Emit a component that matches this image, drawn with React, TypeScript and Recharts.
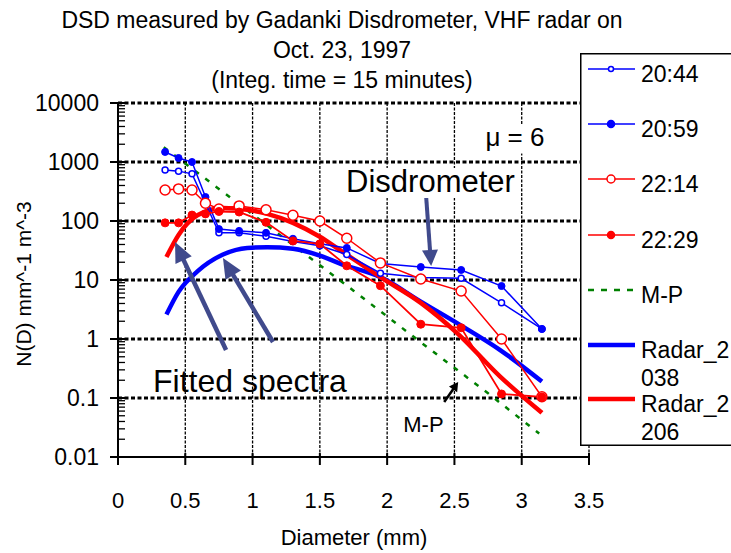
import React from 'react';
import { LineChart, Line, XAxis, YAxis, ReferenceLine, ReferenceDot, Legend, Label } from 'recharts';

const FONT = '"Liberation Sans", Arial, sans-serif';

// ---- data ----
const binD = [0.35, 0.45, 0.55, 0.65, 0.75, 0.9, 1.1, 1.3, 1.5, 1.7, 1.95, 2.25, 2.55, 2.85, 3.15];
const n2044 = [730, 700, 630, 200, 63, 63, 55, 45, 38, 27, 13, 11, 10.7, 4.1, 1.48];
const n2059 = [1480, 1170, 1000, 255, 73, 68, 63, 50, 41, 35, 19, 16.6, 14.8, 7.9, 1.48];
const n2214 = [336, 350, 336, 200, 160, 180, 155, 125, 100, 51, 19.5, 10.4, 6.5, 1.0, 0.105];
const n2229 = [93, 93, 126, 132, 145, 142, 95, 46, 41, 17.4, 8, 1.78, 1.55, 0.117, 0.104];

const radarD = [0.36, 0.45, 0.59, 0.78, 0.96, 1.11, 1.3, 1.5, 1.65, 1.95, 2.25, 2.52, 2.84, 3.15];
const radar2038 = [2.6, 6.3, 14, 27, 35, 36, 34, 26, 19, 11.2, 4.3, 1.86, 0.65, 0.19];
const radar2206 = [24.5, 58, 125, 166, 155, 132, 93, 54, 32, 11.2, 4.1, 1.26, 0.23, 0.056];

const mpD = [0.34, 0.75, 1.25, 1.75, 2.25, 2.75, 3.13];
const mpN = [1780, 350, 48, 6.6, 0.88, 0.12, 0.025];

const xTicks = [0, 0.5, 1, 1.5, 2, 2.5, 3, 3.5];
const xTickLabels = ['0', '0.5', '1', '1.5', '2', '2.5', '3', '3.5'];
const yDecades = [0.01, 0.1, 1, 10, 100, 1000, 10000];
const yTickLabels = ['0.01', '0.1', '1', '10', '100', '1000', '10000'];
const minorMult = [2, 3, 4, 5, 6, 7, 8, 9];

const legendNames = ['20:44', '20:59', '22:14', '22:29', 'M-P', 'Radar_2038', 'Radar_2206'];
const titleLines = ['DSD measured by Gadanki Disdrometer, VHF radar on', 'Oct. 23, 1997', '(Integ. time = 15 minutes)'];
const xTitle = 'Diameter (mm)';
const yTitle = 'N(D) mm^-1 m^-3';

// ---- helpers ----
const pts = (xs: number[], ys: number[]) => xs.map((x, i) => ({ x, y: ys[i] }));
const d2044 = pts(binD, n2044);
const d2059 = pts(binD, n2059);
const d2214 = pts(binD, n2214);
const d2229 = pts(binD, n2229);
const dR2038 = pts(radarD, radar2038);
const dR2206 = pts(radarD, radar2206);
const dMP = pts(mpD, mpN);

const yTickValues = [
  ...yDecades,
  ...yDecades.slice(0, -1).flatMap((d) => minorMult.map((m) => +(d * m).toPrecision(3))),
].sort((a, b) => a - b);

const BLUE = '#0000FF';
const RED = '#FF0000';
const GREEN = '#008000';
const ARROW = '#404A8C';

const YTick = (p: any) => {
  const { x, y, payload } = p;
  const idx = yDecades.findIndex((d) => Math.abs(d - payload.value) / d < 1e-6);
  const major = idx >= 0;
  return (
    <g>
      <line x1={major ? x - 8 : x} x2={x + 7} y1={y} y2={y} stroke="#000" strokeWidth={major ? 2 : 1.3} />
      {major && (
        <text x={x - 19} y={y} dy="0.36em" textAnchor="end" fontSize={23} fontFamily={FONT} fill="#000">
          {yTickLabels[idx]}
        </text>
      )}
    </g>
  );
};

const XTick = (p: any) => {
  const { x, y, payload } = p;
  const idx = xTicks.indexOf(payload.value);
  return (
    <g>
      <line x1={x} x2={x} y1={y - 4} y2={y + 8} stroke="#000" strokeWidth={2} />
      <text x={x} y={y + 51} textAnchor="middle" fontSize={22} fontFamily={FONT} fill="#000">
        {xTickLabels[idx]}
      </text>
    </g>
  );
};

const arrowShape = (color: string, w: number, head: number, half: number) => (p: any) => {
  const { x1, y1, x2, y2 } = p;
  const dx = x2 - x1;
  const dy = y2 - y1;
  const len = Math.hypot(dx, dy) || 1;
  const ux = dx / len;
  const uy = dy / len;
  const bx = x2 - ux * head;
  const by = y2 - uy * head;
  const px = -uy;
  const py = ux;
  return (
    <g>
      <line x1={x1} y1={y1} x2={bx + ux * 2} y2={by + uy * 2} stroke={color} strokeWidth={w} />
      <polygon
        points={`${x2},${y2} ${bx + px * half},${by + py * half} ${bx - px * half},${by - py * half}`}
        fill={color}
      />
    </g>
  );
};

const textShape = (txt: string, size: number, bg: { w: number; up: number; down: number } | null) => (p: any) => {
  const { cx, cy } = p;
  return (
    <g>
      {bg && <rect x={cx - 2} y={cy - bg.up} width={bg.w} height={bg.up + bg.down} fill="#fff" />}
      <text x={cx} y={cy} fontSize={size} fontFamily={FONT} fill="#000">
        {txt}
      </text>
    </g>
  );
};

const legendStyles = [
  { color: BLUE, w: 1.5, marker: 'open', r: 2.5 },
  { color: BLUE, w: 1.5, marker: 'fill', r: 3.5 },
  { color: RED, w: 1.5, marker: 'open', r: 4 },
  { color: RED, w: 1.5, marker: 'fill', r: 3.5 },
  { color: GREEN, w: 2.5, marker: 'none', r: 0, dash: '6 7' },
  { color: BLUE, w: 4.5, marker: 'none', r: 0 },
  { color: RED, w: 4.5, marker: 'none', r: 0 },
];
const legendRowY = [16, 71, 126, 182, 237, 292, 346];

const LegendBox = () => (
  <svg width={151} height={394} style={{ display: 'block' }}>
    <rect x={0.75} y={0.75} width={200} height={391.5} fill="#fff" stroke="#000" strokeWidth={1.5} />
    {legendNames.map((name, i) => {
      const s: any = legendStyles[i];
      const y = legendRowY[i];
      const two = name.length > 7;
      return (
        <g key={name}>
          <line x1={8} x2={55} y1={y} y2={y} stroke={s.color} strokeWidth={s.w} strokeDasharray={s.dash} />
          {s.marker !== 'none' && (
            <circle cx={31} cy={y} r={s.r} fill={s.marker === 'fill' ? s.color : '#fff'} stroke={s.color} strokeWidth={1.5} />
          )}
          <text x={61} y={y + 13} fontSize={23} fontFamily={FONT} fill="#000">
            {two ? name.slice(0, 7) : name}
          </text>
          {two && (
            <text x={61} y={y + 41} fontSize={23} fontFamily={FONT} fill="#000">
              {name.slice(7)}
            </text>
          )}
        </g>
      );
    })}
  </svg>
);

const openDot = (color: string, r: number) => (p: any) => (
  <circle key={`${p.cx}-${p.cy}`} cx={p.cx} cy={p.cy} r={r} fill="#fff" stroke={color} strokeWidth={1.5} />
);
const fillDot = (color: string, r: number) => (p: any) => (
  <circle key={`${p.cx}-${p.cy}`} cx={p.cx} cy={p.cy} r={r} fill={color} stroke={color} strokeWidth={1} />
);

export default function App() {
  return (
    <div style={{ position: 'absolute', left: 0, top: 0, width: 731, height: 553, overflow: 'hidden', background: '#fff' }}>
      <LineChart width={731} height={553} margin={{ top: 103, right: 142, bottom: 66, left: 0 }}>
        <XAxis
          type="number"
          dataKey="x"
          domain={[0, 3.5]}
          ticks={xTicks}
          interval={0}
          allowDataOverflow
          height={30}
          axisLine={{ stroke: '#000', strokeWidth: 2 }}
          tickLine={false}
          tickSize={0}
          tickMargin={0}
          tick={XTick}
        >
          <Label
            content={() => (
              <text x={354} y={545} textAnchor="middle" fontSize={22} fontFamily={FONT} fill="#000">
                {xTitle}
              </text>
            )}
          />
        </XAxis>
        <YAxis
          type="number"
          scale="log"
          domain={[0.01, 10000]}
          ticks={yTickValues}
          interval={0}
          allowDataOverflow
          width={118}
          axisLine={{ stroke: '#000', strokeWidth: 2 }}
          tickLine={false}
          tickSize={0}
          tickMargin={0}
          tick={YTick}
        >
          <Label
            content={() => (
              <text
                x={24}
                y={284}
                transform="rotate(-90 24 284)"
                textAnchor="middle"
                dy="0.35em"
                fontSize={21}
                fontFamily={FONT}
                fill="#000"
              >
                {yTitle}
              </text>
            )}
          />
        </YAxis>

        {yDecades.slice(1).map((v) => (
          <ReferenceLine key={`h${v}`} y={v} stroke="#000" strokeWidth={3} strokeDasharray="4 2.5" />
        ))}
        {xTicks.slice(1).map((v) => (
          <ReferenceLine key={`v${v}`} x={v} stroke="#000" strokeWidth={1.3} strokeDasharray="3 1.5" />
        ))}

        <Line data={dMP} dataKey="y" stroke={GREEN} strokeWidth={2.5} strokeDasharray="5 8" dot={false} isAnimationActive={false} />
        <Line data={dR2038} dataKey="y" type="monotone" stroke={BLUE} strokeWidth={4.5} dot={false} isAnimationActive={false} />
        <Line data={dR2206} dataKey="y" type="monotone" stroke={RED} strokeWidth={4.5} dot={false} isAnimationActive={false} />
        <Line data={d2044} dataKey="y" stroke={BLUE} strokeWidth={1.5} dot={openDot(BLUE, 3)} isAnimationActive={false} />
        <Line data={d2059} dataKey="y" stroke={BLUE} strokeWidth={1.5} dot={fillDot(BLUE, 3.5)} isAnimationActive={false} />
        <Line data={d2214} dataKey="y" stroke={RED} strokeWidth={1.5} dot={openDot(RED, 5)} isAnimationActive={false} />
        <Line data={d2229} dataKey="y" stroke={RED} strokeWidth={1.8} dot={fillDot(RED, 4)} isAnimationActive={false} />

        <ReferenceLine segment={[{ x: 2.29, y: 255 }, { x: 2.327, y: 17.3 }]} shape={arrowShape(ARROW, 4, 16, 8)} />
        <ReferenceLine segment={[{ x: 0.803, y: 0.65 }, { x: 0.424, y: 44 }]} shape={arrowShape(ARROW, 4.5, 20, 9)} />
        <ReferenceLine segment={[{ x: 1.152, y: 0.89 }, { x: 0.78, y: 23.6 }]} shape={arrowShape(ARROW, 4.5, 20, 9)} />
        <ReferenceLine segment={[{ x: 2.424, y: 0.0855 }, { x: 2.528, y: 0.187 }]} shape={arrowShape('#000', 2.5, 9, 5)} />

        <ReferenceDot x={2.73} y={1900} r={0} shape={textShape('\u03BC = 6', 26, { w: 64, up: 21, down: 8 })} />
        <ReferenceDot x={1.695} y={310} r={0} shape={textShape('Disdrometer', 31, { w: 174, up: 24, down: 6 })} />
        <ReferenceDot x={0.26} y={0.126} r={0} shape={textShape('Fitted spectra', 32, null)} />
        <ReferenceDot x={2.12} y={0.0265} r={0} shape={textShape('M-P', 22, null)} />

        <Legend
          layout="vertical"
          align="center"
          verticalAlign="middle"
          wrapperStyle={{ left: 580, top: 53, width: 151, height: 394 }}
          content={() => <LegendBox />}
        />
      </LineChart>
      <svg width={731} height={100} style={{ position: 'absolute', left: 0, top: 0, pointerEvents: 'none' }}>
        {titleLines.map((t, i) => (
          <text key={t} x={342} y={28 + i * 30} textAnchor="middle" fontSize={23} fontFamily={FONT} fill="#000">
            {t}
          </text>
        ))}
      </svg>
    </div>
  );
}
